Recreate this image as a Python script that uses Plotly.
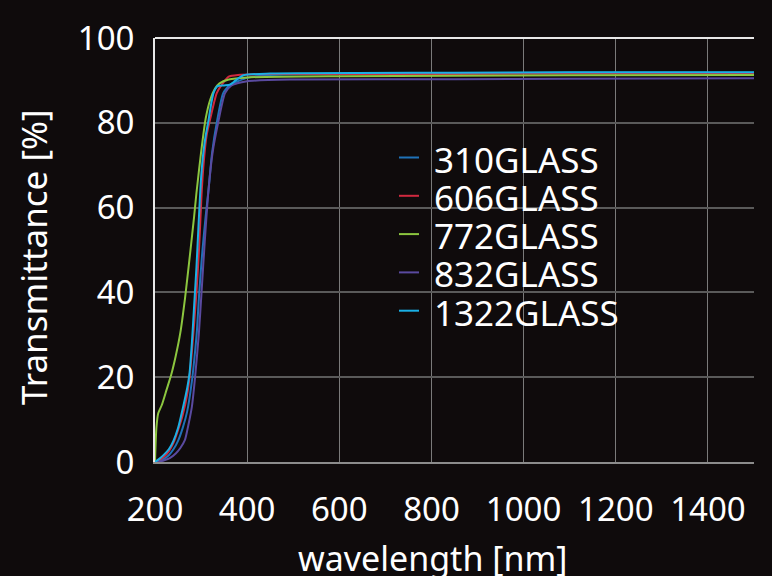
import plotly.graph_objects as go

# ---- data ----
wl_310 = [200, 210, 220, 230, 240, 250, 260, 270, 280, 286, 291, 296, 303, 310, 316, 324, 334, 348, 363, 380, 400, 450, 600, 850, 1100, 1500]
t_310 = [0, 0.3, 0.8, 1.6, 3.0, 5.0, 8.0, 12.0, 19.0, 25.0, 31.0, 40.0, 50.0, 58.0, 64.0, 73.0, 80.0, 87.0, 89.0, 89.8, 90.6, 91.3, 91.6, 91.7, 91.8, 91.8]

wl_606 = [200, 210, 220, 230, 240, 250, 260, 270, 276, 283, 290, 296, 301, 306, 312, 320, 334, 345, 360, 380, 450, 600, 850, 1100, 1500]
t_606 = [0, 0.5, 1.3, 2.5, 4.5, 7.5, 11.0, 16.0, 21.0, 30.0, 40.0, 51.0, 63.0, 71.0, 77.0, 81.0, 87.0, 89.0, 90.9, 91.3, 91.5, 91.5, 91.5, 91.6, 91.6]

wl_772 = [200, 203, 207, 215, 225, 235, 245, 255, 265, 275, 285, 290, 300, 310, 320, 330, 340, 360, 400, 600, 850, 1100, 1500]
t_772 = [0, 8.0, 11.5, 13.5, 17.0, 20.5, 25.0, 30.5, 38.5, 48.0, 58.0, 63.5, 73.0, 81.0, 85.5, 88.0, 89.3, 90.2, 90.7, 91.0, 91.1, 91.2, 91.3]

wl_832 = [200, 210, 220, 232, 245, 255, 265, 272, 280, 287, 295, 301, 308, 316, 325, 337, 352, 366, 400, 500, 850, 1100, 1500]
t_832 = [0, 0.1, 0.4, 0.9, 2.0, 3.3, 5.2, 8.5, 13.0, 20.0, 30.0, 40.0, 52.0, 64.0, 73.0, 80.0, 87.0, 88.8, 89.8, 90.2, 90.3, 90.4, 90.5]

wl_1322 = [200, 210, 220, 230, 240, 250, 260, 270, 275, 280, 285, 290, 295, 300, 305, 310, 316, 322, 327, 335, 350, 363, 375, 392, 450, 850, 1100, 1500]
t_1322 = [0, 0.8, 1.8, 3.0, 5.0, 8.0, 12.5, 17.5, 21.0, 28.0, 37.0, 46.0, 57.0, 67.0, 73.0, 77.0, 80.5, 84.5, 87.0, 88.6, 88.8, 89.0, 90.0, 91.2, 91.6, 91.8, 91.9, 91.9]

series_names = ["310GLASS", "606GLASS", "772GLASS", "832GLASS", "1322GLASS"]
series_x = [wl_310, wl_606, wl_772, wl_832, wl_1322]
series_y = [t_310, t_606, t_772, t_832, t_1322]
series_colors = ["#1f72b8", "#d0293f", "#8cc63f", "#5a4aa0", "#1ab0e6"]

x_ticks = [200, 400, 600, 800, 1000, 1200, 1400]
y_ticks = [0, 20, 40, 60, 80, 100]
x_title = "wavelength [nm]"
y_title = "Transmittance [%]"

BG = "#0f0b0c"
FONT = "Noto Sans"
FS = 33

W, H = 772, 576
ML, MR, MT, MB = 155, 18, 38, 114
PW, PH = W - ML - MR, H - MT - MB


def px2paper(px, py):
    return (px - ML) / PW, 1 - (py - MT) / PH


fig = go.Figure()
for i in range(5):
    fig.add_trace(go.Scatter(
        x=series_x[i], y=series_y[i], mode="lines", name=series_names[i],
        line=dict(color=series_colors[i], width=2, shape="spline", smoothing=0.6),
        showlegend=False,
    ))

fig.update_layout(
    width=W, height=H,
    paper_bgcolor=BG, plot_bgcolor=BG,
    margin=dict(l=ML, r=MR, t=MT, b=MB),
    font=dict(family=FONT, color="white", size=FS),
    showlegend=False,
    xaxis=dict(
        range=[200, 1500], tickvals=x_ticks, ticktext=[str(v) for v in x_ticks],
        showgrid=True, gridcolor="#7a7a7a", gridwidth=1,
        showline=True, linecolor="#8c8c8c", linewidth=2,
        zeroline=False, ticks="", ticklabelstandoff=17,
        tickfont=dict(size=FS, color="white", family=FONT),
    ),
    yaxis=dict(
        range=[0, 100], tickvals=y_ticks, ticktext=[str(v) for v in y_ticks],
        showgrid=True, gridcolor="#5a5a5a", gridwidth=2,
        showline=True, linecolor="#e8e8e8", linewidth=2,
        zeroline=False, ticks="", ticklabelstandoff=12,
        tickfont=dict(size=FS, color="white", family=FONT),
    ),
)

# bright top border line at 100%
fig.add_shape(type="line", xref="paper", yref="paper", x0=0, x1=1, y0=1, y1=1,
              line=dict(color="#e8e8e8", width=2), layer="above")

# axis titles
ax, ay = px2paper(432, 558)
fig.add_annotation(text=x_title, xref="paper", yref="paper", x=ax, y=ay,
                   xanchor="center", yanchor="middle", showarrow=False,
                   font=dict(size=34, color="white", family=FONT))
ax, ay = px2paper(33, 257)
fig.add_annotation(text=y_title, xref="paper", yref="paper", x=ax, y=ay,
                   xanchor="center", yanchor="middle", showarrow=False, textangle=-90,
                   font=dict(size=35, color="white", family=FONT))

# legend (custom, to match compact spacing)
bx0, by0 = px2paper(381, 338)
bx1, by1 = px2paper(631, 132)
fig.add_shape(type="rect", xref="paper", yref="paper", x0=bx0, x1=bx1, y0=by0, y1=by1,
              fillcolor=BG, line=dict(width=0), layer="between")
row_y = 157.5
for i in range(5):
    lx0, ly = px2paper(399, row_y)
    lx1, _ = px2paper(419, row_y)
    fig.add_shape(type="line", xref="paper", yref="paper", x0=lx0, x1=lx1, y0=ly, y1=ly,
                  line=dict(color=series_colors[i], width=2), layer="above")
    tx, ty = px2paper(432, row_y + 1)
    fig.add_annotation(text=series_names[i], xref="paper", yref="paper", x=tx, y=ty,
                       xanchor="left", yanchor="middle", showarrow=False, height=36,
                       font=dict(size=35, color="white", family=FONT))
    row_y += 38.3

fig.write_html("out.html", config={"displayModeBar": False},
               post_script="document.body.style.margin='0';document.body.style.background='%s';" % BG)
